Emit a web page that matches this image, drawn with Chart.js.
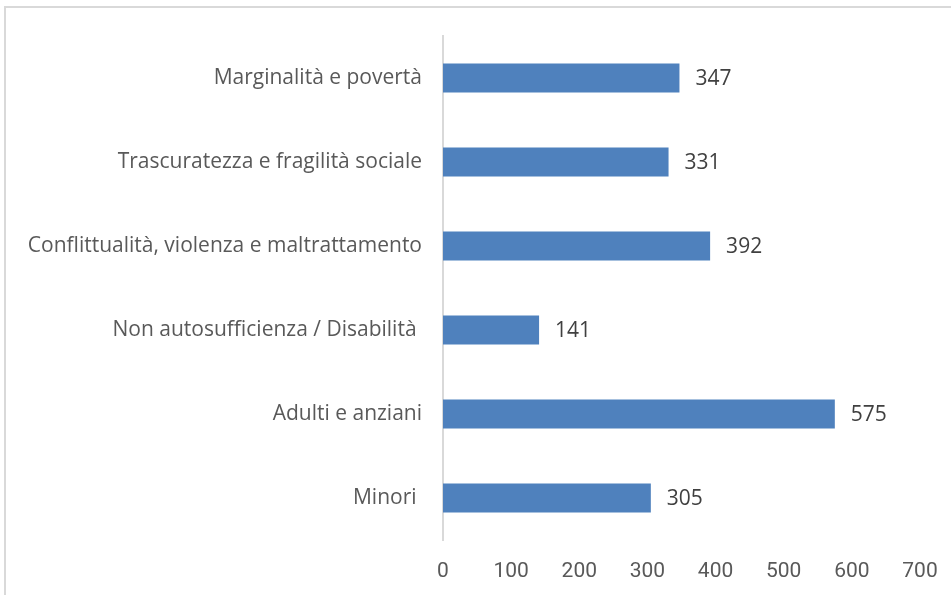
<!DOCTYPE html>
<html><head><meta charset="utf-8">
<script src="https://cdn.jsdelivr.net/npm/chart.js@4/dist/chart.umd.min.js"></script>
<style>
html,body{margin:0;padding:0;background:#fff;overflow:hidden}
#frame{position:absolute;left:4px;top:6px;width:1000px;height:700px;border-left:2px solid #d9d9d9;border-top:2px solid #d9d9d9}
#wrap{position:absolute;left:0;top:0;width:951px;height:595px}
</style></head>
<body>
<div id="frame"></div>
<div id="wrap"><canvas id="c" width="951" height="595"></canvas></div>
<script>
const categories = ["Marginalità e povertà","Trascuratezza e fragilità sociale","Conflittualità, violenza e maltrattamento","Non autosufficienza / Disabilità ","Adulti e anziani","Minori "];
const values = [347,331,392,141,575,305];
const xTicks = [0,100,200,300,400,500,600,700];

const valueLabels = {
  id:'valueLabels',
  afterDatasetsDraw(chart){
    const ctx = chart.ctx;
    const meta = chart.getDatasetMeta(0);
    ctx.save();
    ctx.font = '21px "Open Sans", sans-serif';
    ctx.fillStyle = '#404040';
    ctx.textAlign = 'left';
    ctx.textBaseline = 'middle';
    meta.data.forEach((bar,i)=>{
      ctx.fillText(String(values[i]), bar.x + 16, bar.y + 1);
    });
    ctx.restore();
  }
};

new Chart(document.getElementById('c'),{
  type:'bar',
  data:{labels:categories,datasets:[{data:values,backgroundColor:'#4f81bd',barPercentage:0.69,categoryPercentage:0.5}]},
  options:{
    indexAxis:'y',responsive:false,animation:false,
    layout:{padding:{top:36,right:31,bottom:0,left:0}},
    plugins:{legend:{display:false},tooltip:{enabled:false}},
    scales:{
      x:{min:0,max:700,afterBuildTicks(s){s.ticks = xTicks.map(v=>({value:v}));},
        afterFit(s){s.height = 55; s.paddingLeft = 0; s.paddingRight = 0;},
        grid:{display:false,drawTicks:false},border:{display:false},
        ticks:{padding:19,color:'#595959',font:{family:'"Liberation Sans Narrow","Arial Narrow","Roboto",sans-serif',size:21}}},
      y:{grid:{display:false,drawTicks:false},border:{display:true,color:'#d9d9d9',width:2},
        afterFit(s){s.width = 443; s.paddingTop = 0; s.paddingBottom = 0;},
        ticks:{padding:21,color:'#595959',font:{family:'"Open Sans",sans-serif',size:21}}}
    }
  },
  plugins:[valueLabels]
});
</script>
</body></html>
